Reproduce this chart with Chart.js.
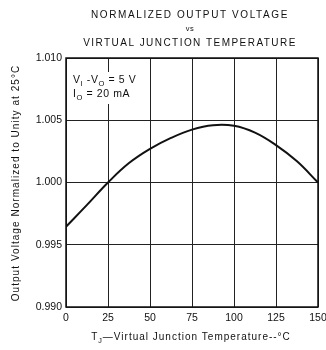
<!DOCTYPE html>
<html>
<head>
<meta charset="utf-8">
<script src="https://cdn.jsdelivr.net/npm/chart.js@4.4.1/dist/chart.umd.min.js"></script>
<style>
  html, body { margin: 0; padding: 0; background: #fff; }
</style>
</head>
<body>
<canvas id="chart" width="326" height="350"></canvas>
<script>
// values
const temps = [0, 12.5, 25, 37.5, 50, 62.5, 75, 87.5, 100, 112.5, 125, 137.5, 150];
const vout = [0.99645, 0.9982, 1.0000, 1.00156, 1.0027, 1.00358, 1.00425, 1.0046, 1.00455, 1.0040, 1.0030, 1.0017, 1.0000];
const xTicks = [0, 25, 50, 75, 100, 125, 150];
const yTicks = [0.990, 0.995, 1.000, 1.005, 1.010];

const FONT = '"Liberation Sans", Arial, sans-serif';
const INK = '#111';

// draws text pieces left to right, some as subscripts
function drawPieces(ctx, pieces, x, y, size) {
  let cx = x;
  pieces.forEach(function(p) {
    const s = p.sub ? size * 0.72 : size;
    ctx.font = s + 'px ' + FONT;
    ctx.fillText(p.t, cx, y + (p.sub ? size * 0.25 : 0));
    cx += ctx.measureText(p.t).width;
  });
  return cx - x;
}
function piecesWidth(ctx, pieces, size) {
  let w = 0;
  pieces.forEach(function(p) {
    ctx.font = (p.sub ? size * 0.72 : size) + 'px ' + FONT;
    w += ctx.measureText(p.t).width;
  });
  return w;
}

const textPlugin = {
  id: 'texts',
  beforeDatasetsDraw: function(chart) {
    // white patch behind the condition note
    const ctx = chart.ctx;
    ctx.save();
    ctx.fillStyle = '#fff';
    ctx.fillRect(70, 72, 78, 32);
    ctx.restore();
  },
  afterDraw: function(chart) {
    const ctx = chart.ctx;
    const a = chart.chartArea;
    ctx.save();
    ctx.fillStyle = INK;
    ctx.textBaseline = 'alphabetic';

    // frame
    ctx.strokeStyle = '#111';
    ctx.lineWidth = 1.5;
    ctx.strokeRect(a.left, a.top, a.right - a.left, a.bottom - a.top);

    // title
    const cx = (a.left + a.right) / 2 - 2;
    ctx.textAlign = 'center';
    ctx.letterSpacing = '1.6px';
    ctx.font = '10px ' + FONT;
    ctx.fillText('NORMALIZED OUTPUT VOLTAGE', cx, 18);
    ctx.letterSpacing = '0.5px';
    ctx.font = '7.5px ' + FONT;
    ctx.fillText('vs', cx, 31);
    ctx.letterSpacing = '1.45px';
    ctx.font = '10px ' + FONT;
    ctx.fillText('VIRTUAL JUNCTION TEMPERATURE', cx, 46);

    // y axis title
    ctx.save();
    ctx.translate(19, 183);
    ctx.rotate(-Math.PI / 2);
    ctx.letterSpacing = '1.05px';
    ctx.font = '10px ' + FONT;
    ctx.fillText('Output Voltage Normalized to Unity at 25\u00b0C', 0, 0);
    ctx.restore();

    // x axis title
    ctx.textAlign = 'left';
    ctx.letterSpacing = '1px';
    const xt = [{t: 'T'}, {t: 'J', sub: true}, {t: '\u2014Virtual Junction Temperature--\u00b0C'}];
    const w = piecesWidth(ctx, xt, 10);
    drawPieces(ctx, xt, 191 - w / 2, 340, 10);

    // condition note
    ctx.letterSpacing = '0.6px';
    drawPieces(ctx, [{t: 'V'}, {t: 'I', sub: true}, {t: ' -V'}, {t: 'O', sub: true}, {t: ' = 5 V'}], 73, 83, 10.5);
    drawPieces(ctx, [{t: 'I'}, {t: 'O', sub: true}, {t: ' = 20 mA'}], 73, 97, 10.5);
    ctx.restore();
  }
};

new Chart(document.getElementById('chart'), {
  type: 'line',
  data: {
    datasets: [{
      data: temps.map(function(t, i) { return {x: t, y: vout[i]}; }),
      borderColor: '#111',
      borderWidth: 2,
      pointRadius: 0,
      tension: 0.4,
      fill: false
    }]
  },
  options: {
    responsive: false,
    animation: false,
    layout: { padding: { top: 58, right: 8, left: 4, bottom: 3 } },
    plugins: {
      legend: { display: false },
      tooltip: { enabled: false },
      title: { display: false }
    },
    scales: {
      x: {
        type: 'linear',
        min: 0,
        max: 150,
        afterBuildTicks: function(s) { s.ticks = xTicks.map(function(v) { return {value: v}; }); },
        afterFit: function(s) { s.height = 40; s.paddingRight = 0; s.paddingLeft = 0; },
        ticks: {
          color: INK,
          padding: 5,
          maxRotation: 0,
          font: { family: FONT, size: 10.5 },
          callback: function(v) { return String(v); }
        },
        grid: { color: '#222', lineWidth: 1, drawTicks: false },
        border: { display: false }
      },
      y: {
        min: 0.990,
        max: 1.010,
        afterBuildTicks: function(s) { s.ticks = yTicks.map(function(v) { return {value: v}; }); },
        afterFit: function(s) { s.width = 62; },
        ticks: {
          color: INK,
          padding: 4,
          font: { family: FONT, size: 10.5 },
          callback: function(v) { return Number(v).toFixed(3); }
        },
        grid: { color: '#222', lineWidth: 1, drawTicks: false },
        border: { display: false }
      }
    }
  },
  plugins: [textPlugin]
});
</script>
</body>
</html>
